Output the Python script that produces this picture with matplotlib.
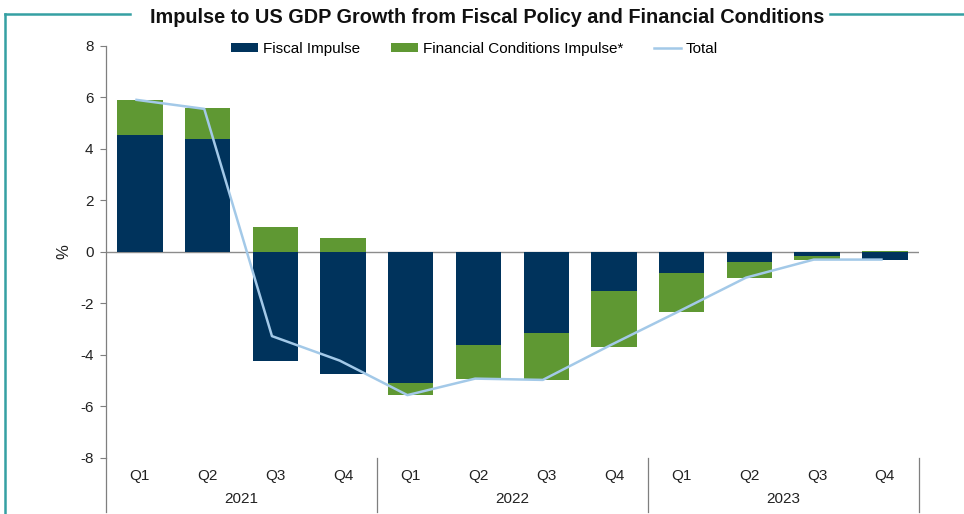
import matplotlib
matplotlib.use("Agg")
import matplotlib.pyplot as plt
from matplotlib.lines import Line2D
import numpy as np

plt.rcParams['font.family'] = ['Liberation Sans', 'DejaVu Sans']
plt.rcParams['axes.unicode_minus'] = False

quarters = ["Q1", "Q2", "Q3", "Q4"] * 3
years = ["2021", "2022", "2023"]
fiscal = [4.55, 4.38, -4.25, -4.75, -5.1, -3.62, -3.15, -1.52, -0.82, -0.4, -0.17, -0.33]
financial = [1.33, 1.22, 0.98, 0.53, -0.46, -1.32, -1.82, -2.18, -1.5, -0.63, -0.13, 0.04]
total = [5.9, 5.55, -3.27, -4.22, -5.56, -4.92, -4.97, -3.62, -2.32, -1.0, -0.3, -0.3]

navy = "#00335c"
green = "#5f9833"
lightblue = "#a3c9e8"
teal = "#35a0a3"

fig = plt.figure(figsize=(9.64, 5.14), dpi=100)
ax = fig.add_axes([0.110, 0.109, 0.843, 0.802])

x = np.arange(len(fiscal))
fiscal_arr = np.array(fiscal)
fin_arr = np.array(financial)
# stack financial on top of fiscal when same sign, else start at zero
bottom_fin = np.where(np.sign(fin_arr) == np.sign(fiscal_arr), fiscal_arr, 0.0)

b1 = ax.bar(x, fiscal, width=0.67, color=navy, label="Fiscal Impulse", zorder=2)
b2 = ax.bar(x, financial, width=0.67, bottom=bottom_fin, color=green,
            label="Financial Conditions Impulse*", zorder=2)
l1, = ax.plot(x - 0.05, total, color=lightblue, lw=1.8, label="Total", zorder=3)

ax.axhline(0, color="#8c8c8c", lw=1.0, zorder=1)

ax.set_xlim(-0.5, len(fiscal) - 0.5)
ax.set_ylim(-8, 8)
ax.set_yticks(range(-8, 9, 2))
ax.set_xticks(x)
ax.set_xticklabels(quarters)
ax.tick_params(axis='x', length=0, pad=8, labelsize=11, colors="#222222")
ax.tick_params(axis='y', length=4, width=0.8, direction='out', pad=5,
               labelsize=11, colors="#222222", color="#7f7f7f")

for s in ["top", "right", "bottom"]:
    ax.spines[s].set_visible(False)
ax.spines["left"].set_color("#7f7f7f")
ax.spines["left"].set_linewidth(0.9)
ax.spines["left"].set_bounds(-8, 8)

ax.set_ylabel("%", fontsize=12, color="#222222", labelpad=6)

# group separators and year labels
trans = ax.get_xaxis_transform()
for b in [-0.5, 3.5, 7.5, 11.5]:
    ax.add_line(Line2D([b, b], [0.0, -0.13], transform=trans, color="#7f7f7f",
                       lw=0.9, clip_on=False))
for i, yr in enumerate(years):
    ax.text(4 * i + 1.5, -0.1, yr, transform=trans, ha="center", va="center",
            fontsize=11, color="#222222")

fig.legend(handles=[b1, b2, l1], loc="center", bbox_to_anchor=(0.492, 0.905), ncol=3,
           frameon=False, fontsize=11, handlelength=1.8, handleheight=0.6,
           columnspacing=2.0, handletextpad=0.3)

fig.text(0.505, 0.966, "Impulse to US GDP Growth from Fiscal Policy and Financial Conditions",
         ha="center", va="center", fontsize=14.3, fontweight="bold", color="#111111")

# teal frame lines
fig.add_artist(Line2D([5 / 964, 130 / 964], [1 - 14 / 514, 1 - 14 / 514], transform=fig.transFigure,
                      color=teal, lw=1.8))
fig.add_artist(Line2D([830 / 964, 1.0], [1 - 14 / 514, 1 - 14 / 514], transform=fig.transFigure,
                      color=teal, lw=1.8))
fig.add_artist(Line2D([5 / 964, 5 / 964], [1 - 14 / 514, 0.0], transform=fig.transFigure,
                      color=teal, lw=1.8))

fig.savefig("out.png", dpi=100)
